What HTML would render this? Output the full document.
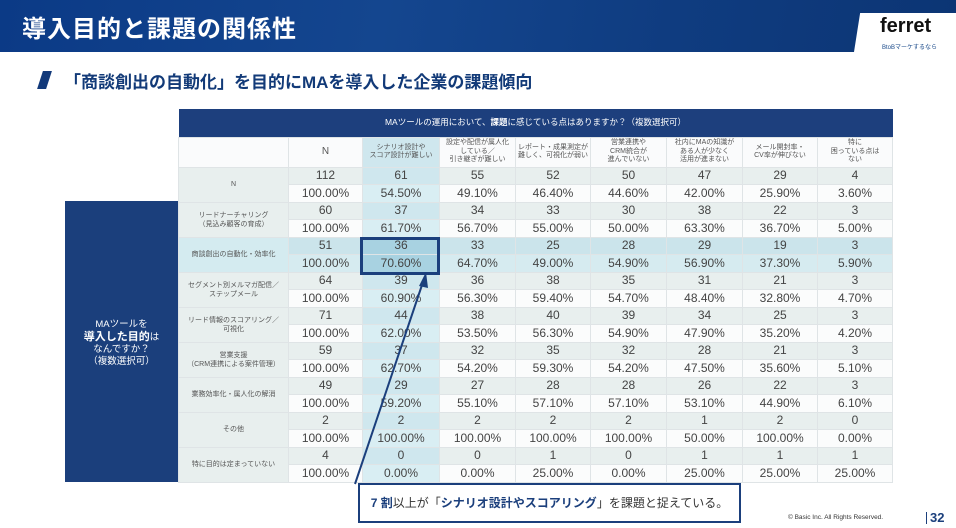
<!DOCTYPE html>
<html><head><meta charset="utf-8">
<style>
*{margin:0;padding:0;box-sizing:border-box}
body{width:956px;height:528px;overflow:hidden;background:#fff;position:relative;font-family:"Liberation Sans","Noto Sans CJK JP",sans-serif}
.hdr{position:absolute;left:0;top:0;width:956px;height:52px;background:linear-gradient(100deg,#0b3a86 0%,#14468f 40%,#0f3c80 70%,#0c3574 100%)}
.hdr h1{position:absolute;left:22px;top:9px;color:#fff;font-size:24px;font-weight:bold;letter-spacing:1px}
.logo{position:absolute;right:0;top:13px;width:102px;height:39px;background:#fff;clip-path:polygon(6% 0,100% 0,100% 100%,0 100%)}
.logo b{position:absolute;left:26px;top:2px;font-size:20px;color:#111;letter-spacing:0}
.logo i{position:absolute;left:28px;top:29px;font-size:6px;color:#1a4a8a;font-style:normal}
.sub{position:absolute;left:64px;top:68px;font-size:17px;font-weight:bold;color:#123a78}
.slash{position:absolute;left:40px;top:71px;width:9px;height:18px;background:#12397a;transform:skewX(-18deg)}
.side{position:absolute;left:65px;top:201px;width:113px;height:281px;background:#1b3f7c;color:#fff;font-size:9.5px;text-align:center;line-height:12px;padding-top:118px}
table{position:absolute;left:178px;top:109px;width:714px;border-collapse:collapse;table-layout:fixed}
td{border:1px solid #dfe4e6;text-align:center;font-size:12px;color:#444;height:17.5px;line-height:15px;padding:0;white-space:nowrap}
td.lab{font-size:7px;line-height:9px;color:#555;background:#fafbfc;white-space:normal}
tr.t td{background:#1d3f7d;color:#fff;font-size:8.5px;height:28px;border:none}
tr.h td{font-size:7px;line-height:8.5px;height:30px;color:#555;background:#fafbfc;white-space:normal}
tr.a td{background:#e8efee}
tr.b td{background:#fbfcfc}
tr.a td.c1,tr.h td.c1{background:#cfe7ee}
tr.b td.c1{background:#d9eef3}
tr.ha td{background:#cbe4eb}
tr.hb td{background:#d6ebf0}
tr.ha td.c1,tr.hb td.c1{background:#a8d2e1}
td.lab.hl{background:#d4ebf0}
.box{position:absolute;left:360px;top:237px;width:80px;height:38px;border:3px solid #1b3f7c}
.call{position:absolute;left:358px;top:483px;width:383px;height:40px;border:2px solid #1b3f7c;background:#fff;font-size:12px;color:#333;text-align:center;line-height:36px}
.call b{color:#1b3f7c}
.foot{position:absolute;left:788px;top:514px;font-size:6.5px;color:#333}
.pg{position:absolute;left:930px;top:510px;font-size:13px;font-weight:bold;color:#1b3f7c}
.bar{position:absolute;left:926px;top:512px;width:1px;height:12px;background:#1b3f7c}
</style></head><body>
<div class="hdr"><h1>導入目的と課題の関係性</h1><div class="logo"><b>ferret</b><i>BtoBマーケするなら</i></div></div>
<div class="slash"></div>
<div class="sub">「商談創出の自動化」を目的にMAを導入した企業の課題傾向</div>
<div class="side">MAツールを<br><b style="font-size:11px">導入した目的</b>は<br>なんですか？<br>（複数選択可）</div>
<table>
<colgroup><col style="width:110px"><col style="width:74px"><col style="width:77px"><col style="width:76px"><col style="width:75px"><col style="width:76px"><col style="width:76px"><col style="width:75px"><col style="width:75px"></colgroup>
<tr class="t"><td colspan="9">MAツールの運用において、<b>課題</b>に感じている点はありますか？（複数選択可）</td></tr>
<tr class="h"><td></td><td style="font-size:10px">N</td><td class="c1">シナリオ設計や<br>スコア設計が難しい</td><td>設定や配信が属人化<br>している／<br>引き継ぎが難しい</td><td>レポート・成果測定が<br>難しく、可視化が弱い</td><td>営業連携や<br>CRM統合が<br>進んでいない</td><td>社内にMAの知識が<br>ある人が少なく<br>活用が進まない</td><td>メール開封率・<br>CV率が伸びない</td><td>特に<br>困っている点は<br>ない</td></tr>
<tr class="a"><td class="lab" rowspan="2">N</td><td>112</td><td class="c1">61</td><td>55</td><td>52</td><td>50</td><td>47</td><td>29</td><td>4</td></tr>
<tr class="b"><td>100.00%</td><td class="c1">54.50%</td><td>49.10%</td><td>46.40%</td><td>44.60%</td><td>42.00%</td><td>25.90%</td><td>3.60%</td></tr>
<tr class="a"><td class="lab" rowspan="2">リードナーチャリング<br>（見込み顧客の育成）</td><td>60</td><td class="c1">37</td><td>34</td><td>33</td><td>30</td><td>38</td><td>22</td><td>3</td></tr>
<tr class="b"><td>100.00%</td><td class="c1">61.70%</td><td>56.70%</td><td>55.00%</td><td>50.00%</td><td>63.30%</td><td>36.70%</td><td>5.00%</td></tr>
<tr class="ha"><td class="lab hl" rowspan="2">商談創出の自動化・効率化</td><td>51</td><td class="c1">36</td><td>33</td><td>25</td><td>28</td><td>29</td><td>19</td><td>3</td></tr>
<tr class="hb"><td>100.00%</td><td class="c1">70.60%</td><td>64.70%</td><td>49.00%</td><td>54.90%</td><td>56.90%</td><td>37.30%</td><td>5.90%</td></tr>
<tr class="a"><td class="lab" rowspan="2">セグメント別メルマガ配信／<br>ステップメール</td><td>64</td><td class="c1">39</td><td>36</td><td>38</td><td>35</td><td>31</td><td>21</td><td>3</td></tr>
<tr class="b"><td>100.00%</td><td class="c1">60.90%</td><td>56.30%</td><td>59.40%</td><td>54.70%</td><td>48.40%</td><td>32.80%</td><td>4.70%</td></tr>
<tr class="a"><td class="lab" rowspan="2">リード情報のスコアリング／<br>可視化</td><td>71</td><td class="c1">44</td><td>38</td><td>40</td><td>39</td><td>34</td><td>25</td><td>3</td></tr>
<tr class="b"><td>100.00%</td><td class="c1">62.00%</td><td>53.50%</td><td>56.30%</td><td>54.90%</td><td>47.90%</td><td>35.20%</td><td>4.20%</td></tr>
<tr class="a"><td class="lab" rowspan="2">営業支援<br>（CRM連携による案件管理）</td><td>59</td><td class="c1">37</td><td>32</td><td>35</td><td>32</td><td>28</td><td>21</td><td>3</td></tr>
<tr class="b"><td>100.00%</td><td class="c1">62.70%</td><td>54.20%</td><td>59.30%</td><td>54.20%</td><td>47.50%</td><td>35.60%</td><td>5.10%</td></tr>
<tr class="a"><td class="lab" rowspan="2">業務効率化・属人化の解消</td><td>49</td><td class="c1">29</td><td>27</td><td>28</td><td>28</td><td>26</td><td>22</td><td>3</td></tr>
<tr class="b"><td>100.00%</td><td class="c1">59.20%</td><td>55.10%</td><td>57.10%</td><td>57.10%</td><td>53.10%</td><td>44.90%</td><td>6.10%</td></tr>
<tr class="a"><td class="lab" rowspan="2">その他</td><td>2</td><td class="c1">2</td><td>2</td><td>2</td><td>2</td><td>1</td><td>2</td><td>0</td></tr>
<tr class="b"><td>100.00%</td><td class="c1">100.00%</td><td>100.00%</td><td>100.00%</td><td>100.00%</td><td>50.00%</td><td>100.00%</td><td>0.00%</td></tr>
<tr class="a"><td class="lab" rowspan="2">特に目的は定まっていない</td><td>4</td><td class="c1">0</td><td>0</td><td>1</td><td>0</td><td>1</td><td>1</td><td>1</td></tr>
<tr class="b"><td>100.00%</td><td class="c1">0.00%</td><td>0.00%</td><td>25.00%</td><td>0.00%</td><td>25.00%</td><td>25.00%</td><td>25.00%</td></tr>
</table>
<div class="box"></div>
<svg style="position:absolute;left:0;top:0" width="956" height="528">
<line x1="355" y1="484" x2="423" y2="282" stroke="#1b3f7c" stroke-width="2"/>
<polygon points="426,272 419,286 428,288" fill="#1b3f7c"/>
</svg>
<div class="call"><b>7 割</b>以上が「<b>シナリオ設計やスコアリング</b>」を課題と捉えている。</div>
<div class="foot">© Basic Inc. All Rights Reserved.</div>
<div class="bar"></div>
<div class="pg">32</div>
</body></html>
